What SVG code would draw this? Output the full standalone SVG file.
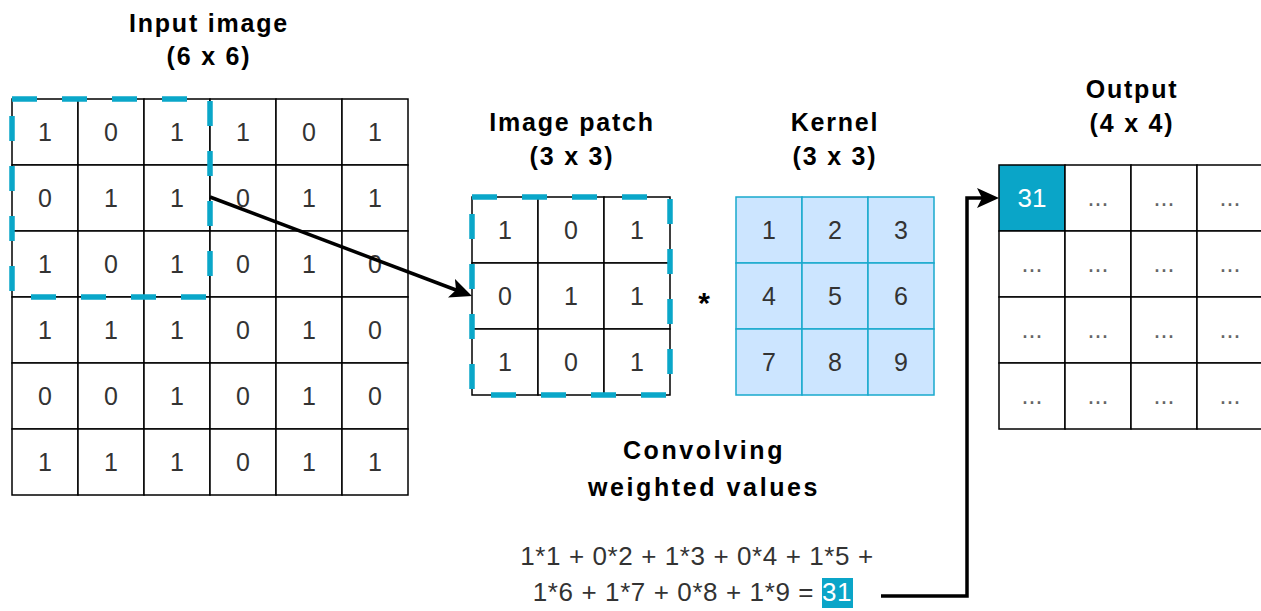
<svg xmlns="http://www.w3.org/2000/svg" width="1261" height="611" viewBox="0 0 1261 611">
<style>
.cell{fill:#ffffff;stroke:#000000;stroke-width:1.5}
.kcell{fill:#cce5ff;stroke:#19a9cd;stroke-width:1.5}
.num{font-family:"Liberation Sans",Arial,sans-serif;font-size:25px;fill:#333333;text-anchor:middle}
.dots{font-family:"Liberation Sans",Arial,sans-serif;font-size:25px;fill:#666666;text-anchor:middle}
.title{font-family:"Liberation Sans",Arial,sans-serif;font-size:25px;font-weight:bold;fill:#000000;text-anchor:middle;letter-spacing:1.8px}
.cap{font-family:"Liberation Sans",Arial,sans-serif;font-size:25px;font-weight:bold;fill:#000000;text-anchor:middle;letter-spacing:2.6px}
.formula{font-family:"Liberation Sans",Arial,sans-serif;font-size:26px;fill:#333333;letter-spacing:0.6px}
.dash{fill:none;stroke:#0aa7c9;stroke-width:5.5;stroke-dasharray:25 25}
.conn{fill:none;stroke:#000000;stroke-width:3.5}
</style>
<defs>
<marker id="arr" viewBox="0 0 22 20" refX="12" refY="10" markerWidth="22" markerHeight="20" orient="auto" markerUnits="userSpaceOnUse">
<path d="M0,0 L22,10 L0,20 L5,10 z" fill="#000000"/>
</marker>
</defs>
<rect width="1261" height="611" fill="#ffffff"/>

<g id="input-title">
<text class="title" x="209" y="32">Input image</text>
<text class="title" x="209" y="65">(6 x 6)</text>
</g>

<g id="input-image">
<rect class="cell" x="12" y="99" width="66" height="66"/><rect class="cell" x="78" y="99" width="66" height="66"/><rect class="cell" x="144" y="99" width="66" height="66"/><rect class="cell" x="210" y="99" width="66" height="66"/><rect class="cell" x="276" y="99" width="66" height="66"/><rect class="cell" x="342" y="99" width="66" height="66"/>
<rect class="cell" x="12" y="165" width="66" height="66"/><rect class="cell" x="78" y="165" width="66" height="66"/><rect class="cell" x="144" y="165" width="66" height="66"/><rect class="cell" x="210" y="165" width="66" height="66"/><rect class="cell" x="276" y="165" width="66" height="66"/><rect class="cell" x="342" y="165" width="66" height="66"/>
<rect class="cell" x="12" y="231" width="66" height="66"/><rect class="cell" x="78" y="231" width="66" height="66"/><rect class="cell" x="144" y="231" width="66" height="66"/><rect class="cell" x="210" y="231" width="66" height="66"/><rect class="cell" x="276" y="231" width="66" height="66"/><rect class="cell" x="342" y="231" width="66" height="66"/>
<rect class="cell" x="12" y="297" width="66" height="66"/><rect class="cell" x="78" y="297" width="66" height="66"/><rect class="cell" x="144" y="297" width="66" height="66"/><rect class="cell" x="210" y="297" width="66" height="66"/><rect class="cell" x="276" y="297" width="66" height="66"/><rect class="cell" x="342" y="297" width="66" height="66"/>
<rect class="cell" x="12" y="363" width="66" height="66"/><rect class="cell" x="78" y="363" width="66" height="66"/><rect class="cell" x="144" y="363" width="66" height="66"/><rect class="cell" x="210" y="363" width="66" height="66"/><rect class="cell" x="276" y="363" width="66" height="66"/><rect class="cell" x="342" y="363" width="66" height="66"/>
<rect class="cell" x="12" y="429" width="66" height="66"/><rect class="cell" x="78" y="429" width="66" height="66"/><rect class="cell" x="144" y="429" width="66" height="66"/><rect class="cell" x="210" y="429" width="66" height="66"/><rect class="cell" x="276" y="429" width="66" height="66"/><rect class="cell" x="342" y="429" width="66" height="66"/>
<text class="num" x="45" y="141">1</text><text class="num" x="111" y="141">0</text><text class="num" x="177" y="141">1</text><text class="num" x="243" y="141">1</text><text class="num" x="309" y="141">0</text><text class="num" x="375" y="141">1</text>
<text class="num" x="45" y="207">0</text><text class="num" x="111" y="207">1</text><text class="num" x="177" y="207">1</text><text class="num" x="243" y="207">0</text><text class="num" x="309" y="207">1</text><text class="num" x="375" y="207">1</text>
<text class="num" x="45" y="273">1</text><text class="num" x="111" y="273">0</text><text class="num" x="177" y="273">1</text><text class="num" x="243" y="273">0</text><text class="num" x="309" y="273">1</text><text class="num" x="375" y="273">0</text>
<text class="num" x="45" y="339">1</text><text class="num" x="111" y="339">1</text><text class="num" x="177" y="339">1</text><text class="num" x="243" y="339">0</text><text class="num" x="309" y="339">1</text><text class="num" x="375" y="339">0</text>
<text class="num" x="45" y="405">0</text><text class="num" x="111" y="405">0</text><text class="num" x="177" y="405">1</text><text class="num" x="243" y="405">0</text><text class="num" x="309" y="405">1</text><text class="num" x="375" y="405">0</text>
<text class="num" x="45" y="471">1</text><text class="num" x="111" y="471">1</text><text class="num" x="177" y="471">1</text><text class="num" x="243" y="471">0</text><text class="num" x="309" y="471">1</text><text class="num" x="375" y="471">1</text>
</g>

<g id="input-window">
<rect class="dash" x="12" y="99" width="198" height="198"/>
</g>

<g id="patch-title">
<text class="title" x="572" y="131">Image patch</text>
<text class="title" x="572" y="165">(3 x 3)</text>
</g>

<g id="image-patch">
<rect class="cell" x="472" y="197" width="66" height="66"/><rect class="cell" x="538" y="197" width="66" height="66"/><rect class="cell" x="604" y="197" width="66" height="66"/>
<rect class="cell" x="472" y="263" width="66" height="66"/><rect class="cell" x="538" y="263" width="66" height="66"/><rect class="cell" x="604" y="263" width="66" height="66"/>
<rect class="cell" x="472" y="329" width="66" height="66"/><rect class="cell" x="538" y="329" width="66" height="66"/><rect class="cell" x="604" y="329" width="66" height="66"/>
<text class="num" x="505" y="239">1</text><text class="num" x="571" y="239">0</text><text class="num" x="637" y="239">1</text>
<text class="num" x="505" y="305">0</text><text class="num" x="571" y="305">1</text><text class="num" x="637" y="305">1</text>
<text class="num" x="505" y="371">1</text><text class="num" x="571" y="371">0</text><text class="num" x="637" y="371">1</text>
<rect class="dash" x="472" y="197" width="198" height="198"/>
</g>

<g id="operator">
<text x="704" y="313" style="font-family:'Liberation Sans',Arial,sans-serif;font-size:30px;font-weight:bold;fill:#000000;text-anchor:middle">*</text>
</g>

<g id="kernel-title">
<text class="title" x="835" y="131">Kernel</text>
<text class="title" x="835" y="165">(3 x 3)</text>
</g>

<g id="kernel">
<rect class="kcell" x="736" y="197" width="66" height="66"/><rect class="kcell" x="802" y="197" width="66" height="66"/><rect class="kcell" x="868" y="197" width="66" height="66"/>
<rect class="kcell" x="736" y="263" width="66" height="66"/><rect class="kcell" x="802" y="263" width="66" height="66"/><rect class="kcell" x="868" y="263" width="66" height="66"/>
<rect class="kcell" x="736" y="329" width="66" height="66"/><rect class="kcell" x="802" y="329" width="66" height="66"/><rect class="kcell" x="868" y="329" width="66" height="66"/>
<text class="num" x="769" y="239">1</text><text class="num" x="835" y="239">2</text><text class="num" x="901" y="239">3</text>
<text class="num" x="769" y="305">4</text><text class="num" x="835" y="305">5</text><text class="num" x="901" y="305">6</text>
<text class="num" x="769" y="371">7</text><text class="num" x="835" y="371">8</text><text class="num" x="901" y="371">9</text>
</g>

<g id="output-title">
<text class="title" x="1132" y="98">Output</text>
<text class="title" x="1132" y="132">(4 x 4)</text>
</g>

<g id="output">
<rect x="999" y="165" width="66" height="66" fill="#0aa5c8" stroke="#000000" stroke-width="1.5"/><rect class="cell" x="1065" y="165" width="66" height="66"/><rect class="cell" x="1131" y="165" width="66" height="66"/><rect class="cell" x="1197" y="165" width="66" height="66"/>
<rect class="cell" x="999" y="231" width="66" height="66"/><rect class="cell" x="1065" y="231" width="66" height="66"/><rect class="cell" x="1131" y="231" width="66" height="66"/><rect class="cell" x="1197" y="231" width="66" height="66"/>
<rect class="cell" x="999" y="297" width="66" height="66"/><rect class="cell" x="1065" y="297" width="66" height="66"/><rect class="cell" x="1131" y="297" width="66" height="66"/><rect class="cell" x="1197" y="297" width="66" height="66"/>
<rect class="cell" x="999" y="363" width="66" height="66"/><rect class="cell" x="1065" y="363" width="66" height="66"/><rect class="cell" x="1131" y="363" width="66" height="66"/><rect class="cell" x="1197" y="363" width="66" height="66"/>
<text class="num" x="1032" y="207" style="fill:#ffffff;font-size:26px">31</text>
<text class="dots" x="1098" y="206">...</text><text class="dots" x="1164" y="206">...</text><text class="dots" x="1230" y="206">...</text>
<text class="dots" x="1032" y="272">...</text><text class="dots" x="1098" y="272">...</text><text class="dots" x="1164" y="272">...</text><text class="dots" x="1230" y="272">...</text>
<text class="dots" x="1032" y="338">...</text><text class="dots" x="1098" y="338">...</text><text class="dots" x="1164" y="338">...</text><text class="dots" x="1230" y="338">...</text>
<text class="dots" x="1032" y="404">...</text><text class="dots" x="1098" y="404">...</text><text class="dots" x="1164" y="404">...</text><text class="dots" x="1230" y="404">...</text>
</g>

<g id="caption">
<text class="cap" x="704" y="459">Convolving</text>
<text class="cap" x="704" y="496">weighted values</text>
</g>

<g id="formula">
<rect x="822" y="578" width="31" height="30" fill="#0aa5c8"/>
<text class="formula" x="697" y="565" text-anchor="middle">1*1 + 0*2 + 1*3 + 0*4 + 1*5 +</text>
<text class="formula" x="852" y="601" text-anchor="end">1*6 + 1*7 + 0*8 + 1*9 = <tspan fill="#ffffff">31</tspan></text>
</g>

<g id="connectors">
<line class="conn" x1="210" y1="197" x2="462.6" y2="292.5" marker-end="url(#arr)"/>
<polyline class="conn" points="881,596 967,596 967,198 989,198" marker-end="url(#arr)"/>
</g>
</svg>
